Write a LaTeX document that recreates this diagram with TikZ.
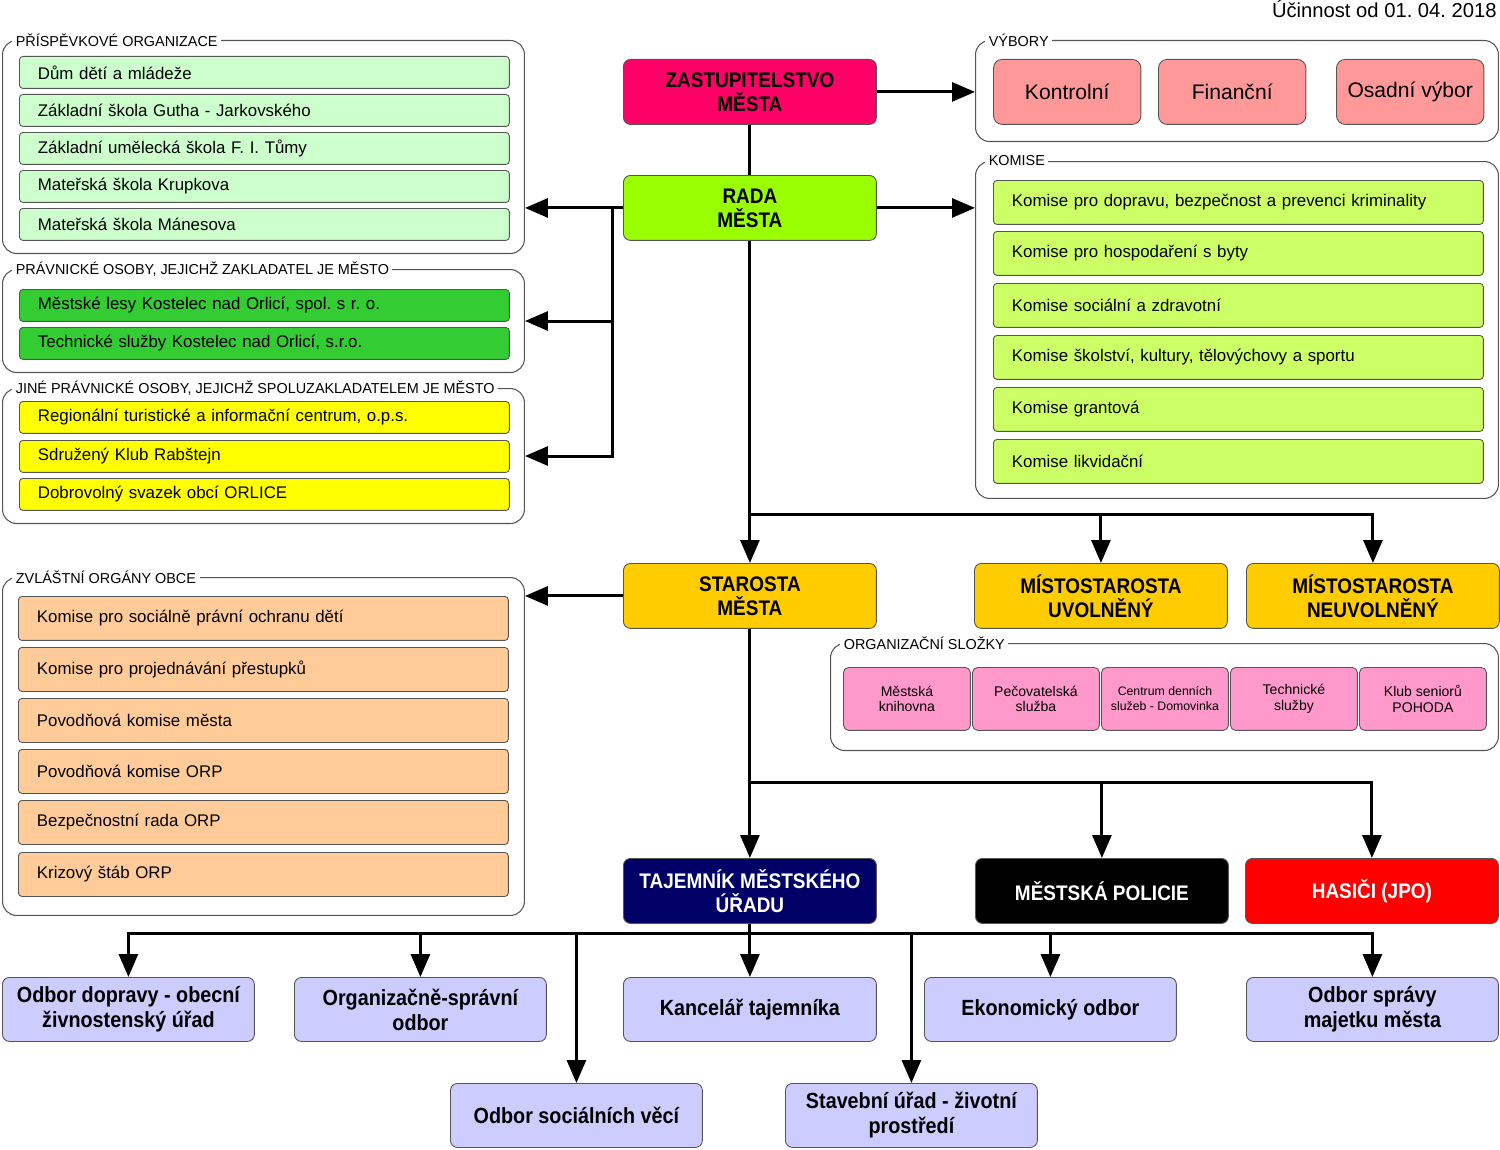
\documentclass[tikz,border=0pt]{standalone}
\usepackage{fontspec}
\setmainfont{Liberation Sans}
\newfontfamily\headfont[FakeStretch=0.9]{Liberation Sans Bold}
\usetikzlibrary{positioning,arrows.meta}
\frenchspacing

\definecolor{zastcol}{HTML}{FF0066}
\definecolor{radacol}{HTML}{99FF00}
\definecolor{starcol}{HTML}{FFCC00}
\definecolor{tajcol}{HTML}{000066}
\definecolor{odbcol}{HTML}{CCCCFF}
\definecolor{pocol}{HTML}{CCFFCC}
\definecolor{poscol}{HTML}{33CC33}
\definecolor{jpocol}{HTML}{FFFF00}
\definecolor{zoocol}{HTML}{FFCC99}
\definecolor{komcol}{HTML}{CCFF66}
\definecolor{vybcol}{HTML}{FF9999}
\definecolor{oslcol}{HTML}{FF99CC}
\definecolor{edgecol}{HTML}{555555}

\tikzset{
	frame/.style={draw=edgecol, line width=0.6pt, rounded corners=8pt, inner sep=0pt, anchor=north west, minimum width=10.44cm},
	framelabel/.style={fill=white, anchor=west, inner xsep=2pt, inner ysep=1pt, font=\fontsize{8.2}{9}\selectfont},
	entry/.style={draw=edgecol, line width=0.5pt, rounded corners=2pt, anchor=north west, inner xsep=0.37cm, inner ysep=0pt, text width=9.06cm, minimum height=#1, align=left, font=\fontsize{9.6}{11}\selectfont},
	entry/.default=0.64cm,
	vybor/.style={draw=edgecol, line width=0.5pt, rounded corners=5pt, anchor=north west, inner sep=0pt, minimum width=2.95cm, minimum height=1.3cm, fill=vybcol, font=\fontsize{12}{14}\selectfont},
	slozka/.style={draw=edgecol, line width=0.5pt, rounded corners=3pt, anchor=north west, inner sep=0pt, minimum width=2.54cm, minimum height=1.26cm, fill=oslcol, align=center, font=\fontsize{8}{9}\selectfont},
	head/.style={draw=edgecol, line width=0.5pt, rounded corners=4pt, anchor=north west, inner sep=0pt, minimum width=5.06cm, minimum height=1.3cm, align=center, font=\headfont\fontsize{12}{13.6}\selectfont},
	odbor/.style={draw=edgecol, line width=0.5pt, rounded corners=4pt, anchor=north west, inner sep=0pt, minimum width=5.04cm, minimum height=1.28cm, align=center, fill=odbcol, font=\headfont\fontsize{12.5}{14.2}\selectfont},
	link/.style={line width=0.06cm},
	arrow/.style={link, -{Triangle[length=0.46cm,width=0.38cm]}}
}

\begin{document}
\begin{tikzpicture}[x=0.02cm, y=-0.02cm]
		\useasboundingbox (0,0) rectangle (1500,1149);

		% Define nodes
		\node[anchor=base east, inner sep=0pt, font=\fontsize{11.5}{13}\selectfont] (ucinnost) at (1497,18) {Účinnost od 01. 04. 2018};

		% left column
		\node[frame, minimum height=4.26cm] (pfo) at (2,40) {};
		\node[framelabel] (pfolabel) at ([xshift=0.2cm]pfo.north west) {PŘÍSPĚVKOVÉ ORGANIZACE};
		\node[entry, fill=pocol] (ddm) at (19,56) {Dům dětí a mládeže};
		\node[entry, fill=pocol] (zsgj) at (19,94) {Základní škola Gutha - Jarkovského};
		\node[entry, fill=pocol] (zus) at (19,132) {Základní umělecká škola F. I. Tůmy};
		\node[entry, fill=pocol] (mskr) at (19,170) {Mateřská škola Krupkova};
		\node[entry, fill=pocol] (msma) at (19,208) {Mateřská škola Mánesova};

		\node[frame, minimum height=2.06cm] (pos) at (2,269) {};
		\node[framelabel] (poslabel) at ([xshift=0.2cm]pos.north west) {PRÁVNICKÉ OSOBY, JEJICHŽ ZAKLADATEL JE MĚSTO};
		\node[entry, fill=poscol] (lesy) at (19,289) {Městské lesy Kostelec nad Orlicí, spol. s r. o.};
		\node[entry, fill=poscol] (tsluzby) at (19,327) {Technické služby Kostelec nad Orlicí, s.r.o.};

		\node[frame, minimum height=2.7cm] (jpo) at (2,388) {};
		\node[framelabel] (jpolabel) at ([xshift=0.2cm]jpo.north west) {JINÉ PRÁVNICKÉ OSOBY, JEJICHŽ SPOLUZAKLADATELEM JE MĚSTO};
		\node[entry, fill=jpocol] (ritic) at (19,401) {Regionální turistické a informační centrum, o.p.s.};
		\node[entry, fill=jpocol] (rabstejn) at (19,440) {Sdružený Klub Rabštejn};
		\node[entry, fill=jpocol] (orlice) at (19,478) {Dobrovolný svazek obcí ORLICE};

		\node[frame, minimum height=6.76cm] (zoo) at (2,577) {};
		\node[framelabel] (zoolabel) at ([xshift=0.2cm]zoo.north west) {ZVLÁŠTNÍ ORGÁNY OBCE};
		\node[entry=0.88cm, fill=zoocol] (ospod) at (18,596) {Komise pro sociálně právní ochranu dětí};
		\node[entry=0.88cm, fill=zoocol] (prestupky) at (18,647) {Komise pro projednávání přestupků};
		\node[entry=0.88cm, fill=zoocol] (povmesto) at (18,698) {Povodňová komise města};
		\node[entry=0.88cm, fill=zoocol] (povorp) at (18,749) {Povodňová komise ORP};
		\node[entry=0.88cm, fill=zoocol] (bezorp) at (18,800) {Bezpečnostní rada ORP};
		\node[entry=0.88cm, fill=zoocol] (krizorp) at (18,852) {Krizový štáb ORP};

		% right column
		\node[frame, minimum width=10.46cm, minimum height=2.02cm] (vyb) at (975,40) {};
		\node[framelabel] (vyblabel) at ([xshift=0.2cm]vyb.north west) {VÝBORY};
		\node[vybor] (kontrolni) at (993,59) {Kontrolní};
		\node[vybor] (financni) at (1158,59) {Finanční};
		\node[vybor] (osadni) at (1336,59) {Osadní výbor};

		\node[frame, minimum width=10.46cm, minimum height=6.74cm] (kom) at (975,161) {};
		\node[framelabel] (komlabel) at ([xshift=0.2cm]kom.north west) {KOMISE};
		\node[entry=0.88cm, fill=komcol] (kdoprava) at (993,180) {Komise pro dopravu, bezpečnost a prevenci kriminality};
		\node[entry=0.88cm, fill=komcol] (kbyty) at (993,231) {Komise pro hospodaření s byty};
		\node[entry=0.88cm, fill=komcol] (ksocialni) at (993,283) {Komise sociální a zdravotní};
		\node[entry=0.88cm, fill=komcol] (kskolstvi) at (993,335) {Komise školství, kultury, tělovýchovy a sportu};
		\node[entry=0.88cm, fill=komcol] (kgrant) at (993,387) {Komise grantová};
		\node[entry=0.88cm, fill=komcol] (klikvid) at (993,439) {Komise likvidační};

		\node[frame, minimum width=13.36cm, minimum height=2.14cm] (osl) at (830,643) {};
		\node[framelabel] (osllabel) at ([xshift=0.2cm]osl.north west) {ORGANIZAČNÍ SLOŽKY};
		\node[slozka] (knihovna) at (843,667) {Městská\\knihovna};
		\node[slozka] (pecovatel) at (972,667) {Pečovatelská\\služba};
		\node[slozka, font=\fontsize{7}{8.5}\selectfont] (domovinka) at (1101,667) {Centrum denních\\služeb - Domovinka};
		\node[slozka] (technicke) at (1230,667) {Technické\\služby};
		\node[slozka] (pohoda) at (1359,667) {Klub seniorů\\POHODA};

		% centre column
		\node[head, fill=zastcol] (zast) at (623,59) {ZASTUPITELSTVO\\MĚSTA};
		\node[head, fill=radacol] (rada) at (623,175) {RADA\\MĚSTA};
		\node[head, fill=starcol] (starosta) at (623,563) {STAROSTA\\MĚSTA};
		\node[head, fill=starcol] (mistu) at (974,563) {MÍSTOSTAROSTA\\UVOLNĚNÝ};
		\node[head, fill=starcol] (mistn) at (1246,563) {MÍSTOSTAROSTA\\NEUVOLNĚNÝ};
		\node[head, fill=tajcol, text=white] (tajemnik) at (623,858) {TAJEMNÍK MĚSTSKÉHO\\ÚŘADU};
		\node[head, fill=black, text=white] (policie) at (975,858) {MĚSTSKÁ POLICIE};
		\node[head, fill=red, text=white] (hasici) at (1245,858) {HASIČI (JPO)};

		% odbory
		\node[odbor] (odoprava) at (2,977) {Odbor dopravy - obecní\\živnostenský úřad};
		\node[odbor] (oorg) at (294,977) {Organizačně-správní\\odbor};
		\node[odbor, minimum width=5.06cm] (kancelar) at (623,977) {Kancelář tajemníka};
		\node[odbor] (oekon) at (924,977) {Ekonomický odbor};
		\node[odbor] (omajetek) at (1246,977) {Odbor správy\\majetku města};
		\node[odbor] (osocial) at (450,1083) {Odbor sociálních věcí};
		\node[odbor] (ostavebni) at (785,1083) {Stavební úřad - životní\\prostředí};

		% Connect the nodes
		\draw[arrow] (zast.east) -- (zast.east -| vyb.west);
		\draw[link] (zast) -- (rada);
		\draw[arrow] (rada.east) -- (rada.east -| kom.west);
		\draw[arrow] (rada.west) -- (rada.west -| pfo.east);
		\coordinate (radabus) at ([xshift=-0.22cm]rada.west);
		\draw[arrow] (radabus) |- (pos.east);
		\draw[arrow] (radabus) |- (jpo.east);

		\draw[arrow] (rada) -- (starosta);
		\coordinate (mistbus) at (749.5,514);
		\draw[arrow] (mistbus) -| (mistu);
		\draw[arrow] (mistbus) -| (mistn);

		\draw[arrow] (starosta.west) -- (starosta.west -| zoo.east);
		\draw[arrow] (starosta) -- (tajemnik);
		\coordinate (polbus) at (749.5,782);
		\draw[arrow] (polbus) -| (policie);
		\draw[arrow] (polbus) -| (hasici);

		\draw[arrow] (tajemnik) -- (kancelar);
		\coordinate (odbbus) at (749.5,933);
		\draw[arrow] (odbbus) -| (odoprava);
		\draw[arrow] (odbbus) -| (oorg);
		\draw[arrow] (odbbus) -| (osocial);
		\draw[arrow] (odbbus) -| (ostavebni);
		\draw[arrow] (odbbus) -| (oekon);
		\draw[arrow] (odbbus) -| (omajetek);
	\end{tikzpicture}
\end{document}
